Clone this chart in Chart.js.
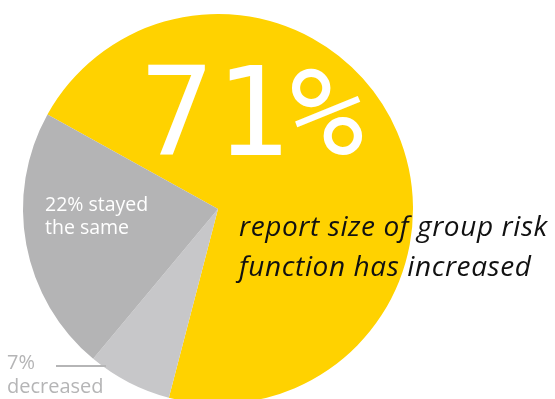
<!DOCTYPE html>
<html>
<head>
<meta charset="utf-8">
<script src="https://cdn.jsdelivr.net/npm/chart.js@4.4.1/dist/chart.umd.min.js"></script>
<style>
  html, body { margin: 0; padding: 0; background: #fff; overflow: hidden; }
  #wrap { position: relative; width: 555px; height: 399px; overflow: hidden; }
  #pie { position: absolute; left: 0; top: 0; }
  .lbl { position: absolute; white-space: nowrap; }
  #big { left: 140px; top: 51px; font: 123px/123px "DejaVu Sans Mono", monospace; color: #fff; letter-spacing: 1px; }
  #same { left: 45px; top: 192px; font: 19.5px/23px "Open Sans", sans-serif; color: #fff; }
  #inc { left: 239px; top: 205px; font: italic 28px/40px "Open Sans", sans-serif; color: #111; letter-spacing: 0.6px; }
  #dec { left: 7px; top: 350px; font: 20px/24px "Open Sans", sans-serif; color: #b5b5b6; }
  #lead { position: absolute; left: 56px; top: 365px; width: 50px; height: 2px; background: #b5b5b6; }
</style>
</head>
<body>
<div id="wrap">
  <canvas id="pie" width="555" height="420"></canvas>
  <div class="lbl" id="big">71%</div>
  <div class="lbl" id="same">22% stayed<br>the same</div>
  <div class="lbl" id="inc">report size of group risk<br>function has increased</div>
  <div id="lead"></div>
  <div class="lbl" id="dec">7%<br>decreased</div>
</div>
<script>
const labels = ['increased', 'decreased', 'stayed the same'];
const shares = [71, 7, 22];
const colors = ['#ffd200', '#c7c7c9', '#b4b4b5'];

const ctx = document.getElementById('pie');

new Chart(ctx, {
    type: 'pie',
    data: {
        labels: labels,
        datasets: [{
            data: shares,
            backgroundColor: colors,
            borderWidth: 0
        }]
    },
    options: {
        responsive: false,
        animation: false,
        rotation: -61,
        layout: {
            padding: { top: 14, left: 23, right: 142, bottom: 16 }
        },
        plugins: {
            legend: { display: false },
            tooltip: { enabled: false }
        }
    }
});
</script>
</body>
</html>
